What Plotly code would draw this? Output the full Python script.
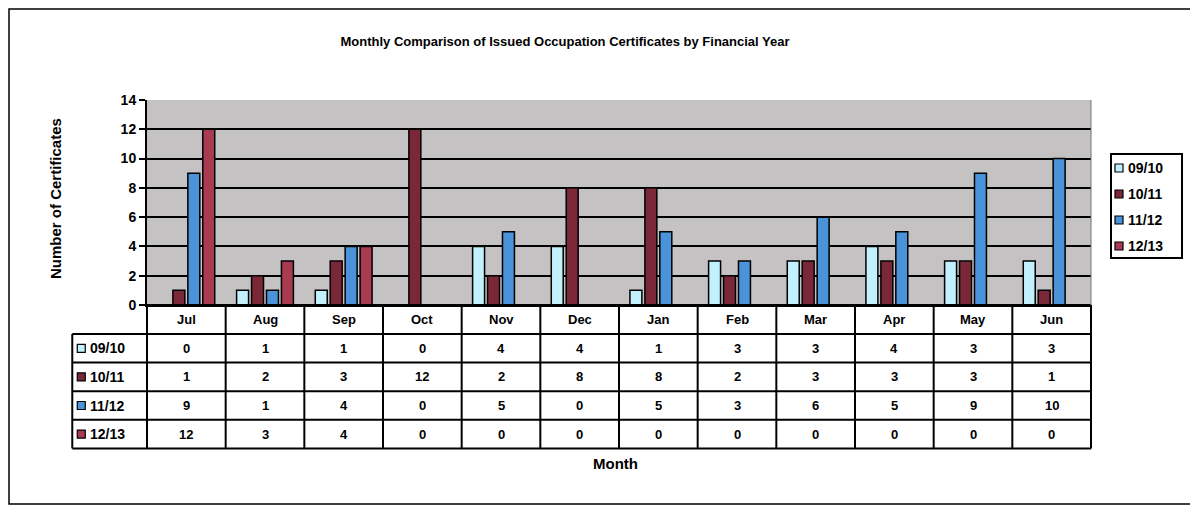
import plotly.graph_objects as go

# ---------------- data ----------------
months = ["Jul", "Aug", "Sep", "Oct", "Nov", "Dec", "Jan", "Feb", "Mar", "Apr", "May", "Jun"]
series_names = ["09/10", "10/11", "11/12", "12/13"]
fy_0910 = [0, 1, 1, 0, 4, 4, 1, 3, 3, 4, 3, 3]
fy_1011 = [1, 2, 3, 12, 2, 8, 8, 2, 3, 3, 3, 1]
fy_1112 = [9, 1, 4, 0, 5, 0, 5, 3, 6, 5, 9, 10]
fy_1213 = [12, 3, 4, 0, 0, 0, 0, 0, 0, 0, 0, 0]
y_ticks = [0, 2, 4, 6, 8, 10, 12, 14]

series_values = [fy_0910, fy_1011, fy_1112, fy_1213]
colors = ["#c2f0fc", "#7a2838", "#4a93db", "#a83a52"]

FONT = "Liberation Sans, Arial, sans-serif"

# ---------------- geometry helpers (window pixels; page body has an 8px margin) ----------------
O = 8
W, H = 1190, 499
PL, PR, PT, PB = 147, 1091, 100, 305   # plot area in window pixels
L, T = PL - O, PT - O
R, B = W - (PR - O), H - (PB - O)
plot_w = PR - PL
plot_h = PB - PT
n = len(months)


def py(pix):  # window pixel y -> paper y
    return (PB - pix) / plot_h


def px(pix):  # window pixel x -> paper x
    return (pix - PL) / plot_w


def cx(c):  # category coordinate -> x-domain fraction
    return (c + 0.5) / n


fig = go.Figure()
for name, vals, col in zip(series_names, series_values, colors):
    fig.add_trace(go.Bar(
        x=list(range(n)), y=vals, name=name, showlegend=False,
        marker=dict(color=col, line=dict(color="black", width=1.5)),
    ))

# ---------------- data table ----------------
head_top, head_bot, row_h = 305, 334, 28.6
label_w = 0.95  # width of the label column in category units
left_edge = cx(-0.5 - label_w)
n_rows = len(series_names)
tbl_bottom = head_bot + n_rows * row_h

shapes = []
line = dict(color="black", width=2)
shapes.append(dict(type="line", xref="x domain", yref="paper", x0=cx(-0.5), x1=cx(n - 0.5),
                   y0=py(head_top), y1=py(head_top), line=line))
for r in range(n_rows + 1):
    yy = py(head_bot + r * row_h)
    shapes.append(dict(type="line", xref="x domain", yref="paper", x0=left_edge, x1=cx(n - 0.5),
                       y0=yy, y1=yy, line=line))
for c in range(n + 1):
    xx = cx(c - 0.5)
    shapes.append(dict(type="line", xref="x domain", yref="paper", x0=xx, x1=xx,
                       y0=py(head_top), y1=py(tbl_bottom), line=line))
shapes.append(dict(type="line", xref="x domain", yref="paper", x0=left_edge, x1=left_edge,
                   y0=py(head_bot), y1=py(tbl_bottom), line=line))

annotations = []
tfont = dict(family=FONT, size=13, color="black", weight="bold")
for i, m in enumerate(months):
    annotations.append(dict(xref="x domain", yref="paper", x=cx(i), y=py((head_top + head_bot) / 2),
                            text=m, showarrow=False, font=tfont, xanchor="center", yanchor="middle"))
for r, (name, vals, col) in enumerate(zip(series_names, series_values, colors)):
    ymid = head_bot + (r + 0.5) * row_h
    for i, v in enumerate(vals):
        annotations.append(dict(xref="x domain", yref="paper", x=cx(i), y=py(ymid),
                                text=str(v), showarrow=False, font=tfont,
                                xanchor="center", yanchor="middle"))
    sq = 8 / plot_w
    sx0 = left_edge + 5 / plot_w
    shapes.append(dict(type="rect", xref="x domain", yref="paper", x0=sx0, x1=sx0 + sq,
                       y0=py(ymid + 4), y1=py(ymid - 4), fillcolor=col,
                       line=dict(color="black", width=1.2)))
    annotations.append(dict(xref="x domain", yref="paper", x=sx0 + sq + 3 / plot_w, y=py(ymid),
                            text=name, showarrow=False, xanchor="left", yanchor="middle",
                            font=dict(family=FONT, size=14, color="black", weight="bold")))

# ---------------- legend (drawn box) ----------------
lg_x0, lg_x1, lg_y0, lg_y1 = 1111, 1182, 154, 258
shapes.append(dict(type="rect", xref="paper", yref="paper", x0=px(lg_x0), x1=px(lg_x1),
                   y0=py(lg_y1), y1=py(lg_y0), line=dict(color="black", width=2),
                   fillcolor="white"))
for k, (name, col) in enumerate(zip(series_names, colors)):
    ymid = 168 + k * 26
    shapes.append(dict(type="rect", xref="paper", yref="paper", x0=px(1115), x1=px(1123),
                       y0=py(ymid + 4), y1=py(ymid - 4), fillcolor=col,
                       line=dict(color="black", width=1.2)))
    annotations.append(dict(xref="paper", yref="paper", x=px(1126), y=py(ymid), text=name,
                            showarrow=False, xanchor="left", yanchor="middle",
                            font=dict(family=FONT, size=14, color="black", weight="bold")))

# axis titles
annotations.append(dict(xref="paper", yref="paper", x=px(615), y=py(463), text="Month", showarrow=False,
                        font=dict(family=FONT, size=15, color="black", weight="bold"),
                        xanchor="center", yanchor="middle"))
annotations.append(dict(xref="paper", yref="paper", x=px(55), y=py(199), text="Number of Certificates",
                        showarrow=False, textangle=-90,
                        font=dict(family=FONT, size=15, color="black", weight="bold"),
                        xanchor="center", yanchor="middle"))

# outer chart border
shapes.append(dict(type="rect", xref="paper", yref="paper", x0=px(9), x1=px(1196), y0=py(504), y1=py(9),
                   line=dict(color="black", width=1.5), fillcolor="rgba(0,0,0,0)", layer="below"))
# plot area right edge
shapes.append(dict(type="line", xref="paper", yref="paper", x0=1, x1=1, y0=0, y1=1,
                   line=dict(color="#777777", width=1)))

fig.update_layout(
    width=W, height=H,
    margin=dict(l=L, r=R, t=T, b=B, pad=0),
    paper_bgcolor="white", plot_bgcolor="#c4c2c2",
    barmode="group", bargap=0.24, bargroupgap=0.2,
    showlegend=False,
    title=dict(text="Monthly Comparison of Issued Occupation Certificates by Financial Year",
               x=(565 - O) / W, xanchor="center", xref="container", y=1 - (41 - O) / H, yref="container",
               yanchor="middle", font=dict(family=FONT, size=13, color="black", weight="bold")),
    xaxis=dict(range=[-0.5, n - 0.5], showticklabels=False, showgrid=False, zeroline=False,
               showline=True, linecolor="black", linewidth=2, ticks=""),
    yaxis=dict(range=[0, 14], tickvals=y_ticks, showgrid=True, gridcolor="black", gridwidth=1.5,
               zeroline=False, showline=True, linecolor="black", linewidth=2, ticks="outside",
               ticklen=6, tickcolor="black", tickwidth=1.5,
               tickfont=dict(family=FONT, size=14, color="black", weight="bold")),
    shapes=shapes, annotations=annotations,
)

fig.write_html("out.html")
